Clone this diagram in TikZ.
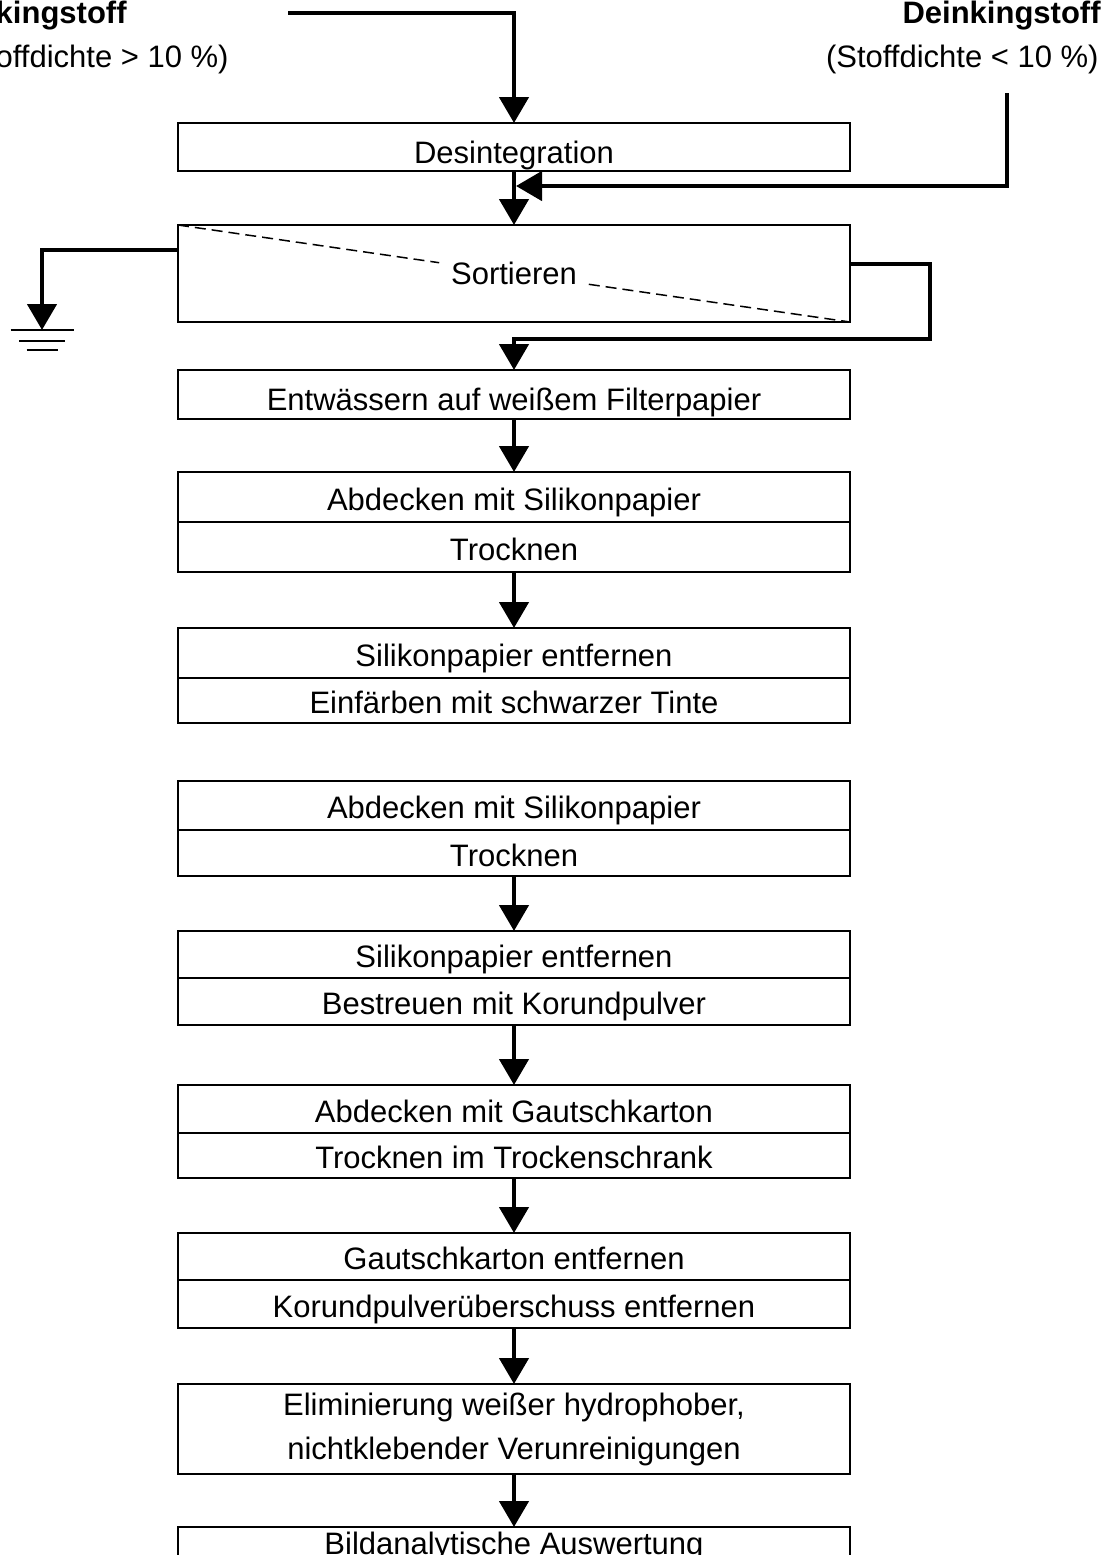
\documentclass[tikz,border=0pt]{standalone}
\usepackage{fontspec}
\setmainfont{Liberation Sans}
\usetikzlibrary{arrows.meta,calc}
\newcommand\fsz{\fontsize{15.5}{22}\selectfont}
\tikzset{
  box/.style={draw, line width=1pt, minimum width=336pt, inner sep=0pt, outer sep=0pt, anchor=north, font=\fsz, align=center},
  single/.style={box, text height=16.1pt, text depth=0pt},
  cell/.style={box, text height=13.1pt, text depth=0pt},
  flow/.style={line width=2.3pt, -{Triangle[width=14.5pt,length=13pt]}},
  lbl/.style={font=\fsz, inner sep=0pt},
  dashline/.style={line width=0.75pt, dash pattern=on 5.5pt off 3pt},
  gline/.style={line width=1pt},
}
\begin{document}
\begin{tikzpicture}[x=0.5pt,y=-0.5pt]
\useasboundingbox (0,0) rectangle (1112,1555);

% source labels
\node[lbl, anchor=base east, font=\fsz\bfseries] (lt1) at (127,23) {Deinkingstoff};
\node[lbl, anchor=base east] (lt2) at (229,67) {(Stoffdichte > 10 \%)};
\node[lbl, anchor=base east, font=\fsz\bfseries] (rt1) at (1101,23) {Deinkingstoff};
\node[lbl, anchor=base east] (rt2) at (1099,67) {(Stoffdichte < 10 \%)};

% boxes
\node[single, minimum height=24pt]   (desint) at (514,123) {Desintegration};
\node[box, minimum height=48.5pt]    (sort)   at (514,225) {};
\node[single, minimum height=24.5pt] (entw)   at (514,370) {Entwässern auf weißem Filterpapier};
\node[cell, minimum height=25pt]     (abd1)   at (514,472) {Abdecken mit Silikonpapier};
\node[cell, minimum height=25pt]     (trk1)   at (514,522) {Trocknen};
\node[cell, minimum height=25pt]     (sil1)   at (514,628) {Silikonpapier entfernen};
\node[cell, minimum height=22.5pt]   (einf)   at (514,678) {Einfärben mit schwarzer Tinte};
\node[cell, minimum height=24.5pt]   (abd2)   at (514,781) {Abdecken mit Silikonpapier};
\node[cell, minimum height=23pt]     (trk2)   at (514,830) {Trocknen};
\node[cell, minimum height=23.5pt]   (sil2)   at (514,931) {Silikonpapier entfernen};
\node[cell, minimum height=23.5pt]   (best)   at (514,978) {Bestreuen mit Korundpulver};
\node[cell, minimum height=24pt]     (gau1)   at (514,1085) {Abdecken mit Gautschkarton};
\node[cell, minimum height=22.5pt]   (trk3)   at (514,1133) {Trocknen im Trockenschrank};
\node[cell, minimum height=23.5pt]   (gau2)   at (514,1233) {Gautschkarton entfernen};
\node[cell, minimum height=24pt]     (kor)    at (514,1280) {Korundpulverüberschuss entfernen};
\node[box, minimum height=45pt]      (elim)   at (514,1384) {Eliminierung weißer hydrophober,\\nichtklebender Verunreinigungen};
\node[box, minimum height=20pt, text height=7.1pt, text depth=0pt] (bild) at (514,1527) {Bildanalytische Auswertung};

% Sortieren label with dashed diagonal
\node[lbl, inner xsep=5.75pt, inner ysep=3pt] (sortlbl) at (sort.center) {Sortieren};
\draw[dashline] (sort.north west) -- (sortlbl);
\draw[dashline] (sortlbl) -- (sort.south east);

% inputs
\coordinate (lin) at (288,13);
\draw[flow] (lin) -| (desint.north);
\coordinate (rin) at (1007,93);
\coordinate (rjoin) at (516,186);
\draw[flow] (desint.south) -- (sort.north);
\draw[flow] (rin) |- (rjoin);

% reject to ground
\coordinate (gnd) at (42,330);
\draw[flow] ($(sort.north west)+(0,25)$) -| (gnd);
\draw[gline] ($(gnd)+(-31.5,0)$) -- ($(gnd)+(31.5,0)$);
\draw[gline] ($(gnd)+(-23,11)$) -- ($(gnd)+(23,11)$);
\draw[gline] ($(gnd)+(-15.5,20)$) -- ($(gnd)+(15.5,20)$);

% accept loop
\draw[flow] ($(sort.north east)+(0,39)$) -- ++(80,0) |- ($(entw.north)+(0,-31)$) -- (entw.north);

% chain
\draw[flow] (entw.south) -- (abd1.north);
\draw[flow] (trk1.south) -- (sil1.north);
\draw[flow] (trk2.south) -- (sil2.north);
\draw[flow] (best.south) -- (gau1.north);
\draw[flow] (trk3.south) -- (gau2.north);
\draw[flow] (kor.south) -- (elim.north);
\draw[flow] (elim.south) -- (bild.north);
\end{tikzpicture}
\end{document}
